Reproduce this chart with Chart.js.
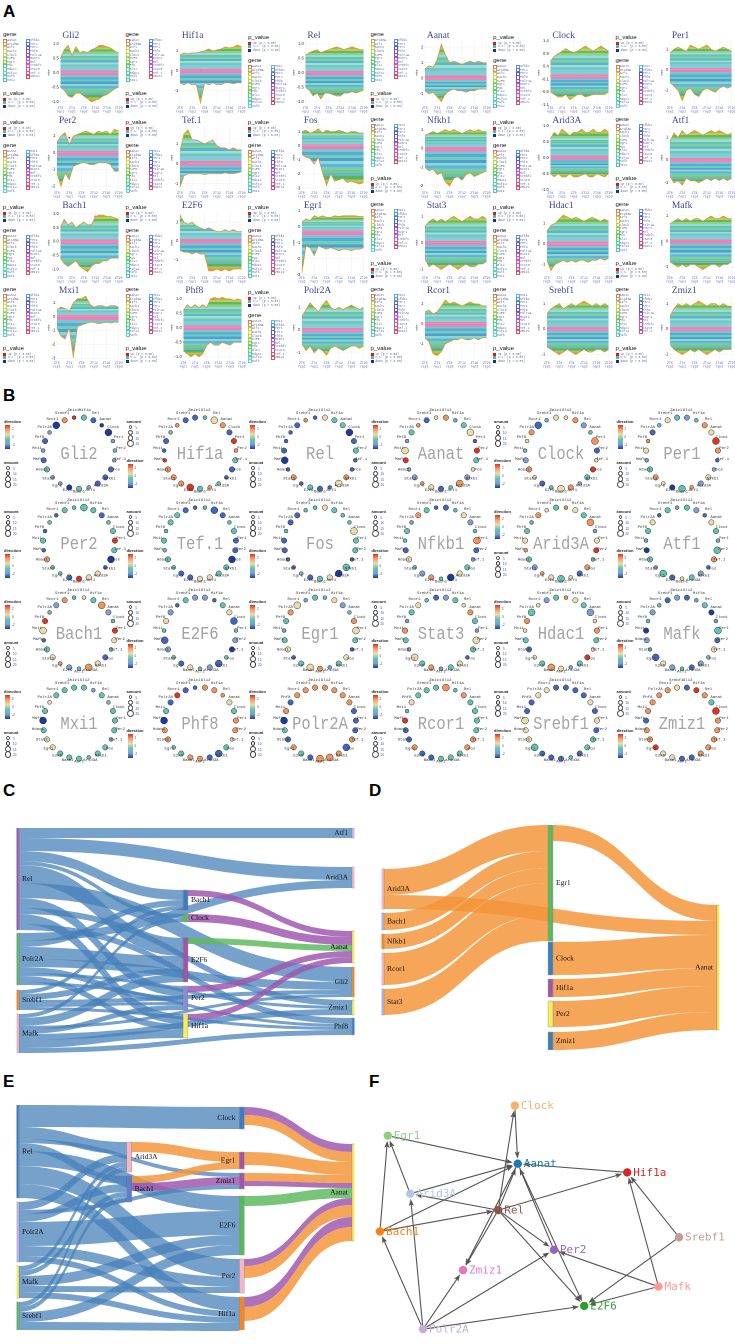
<!DOCTYPE html>
<html><head><meta charset="utf-8">
<script src="https://cdn.jsdelivr.net/npm/chart.js@4.4.1/dist/chart.umd.min.js"></script>
<style>
body{margin:0;background:#fff;}
#root{position:relative;width:735px;height:1344px;overflow:hidden;background:#fff;font-family:'Liberation Sans',Arial,sans-serif;}
.pl{position:absolute;font:bold 17px 'Liberation Sans',Arial,sans-serif;color:#000;line-height:1;}
.t{position:absolute;white-space:nowrap;line-height:1;}
</style></head><body><div id="root"></div>
<script>
// ================= DATA =================
const panelGenes = ['Gli2','Hif1a','Rel','Aanat','Clock','Per1','Per2','Tef.1','Fos','Nfkb1','Arid3A','Atf1','Bach1','E2F6','Egr1','Stat3','Hdac1','Mafk','Mxi1','Phf8','Polr2A','Rcor1','Srebf1','Zmiz1'];
const legendGenes = ['Aanat','Arid3A','Atf1','Bach1','Clock','E2F6','Egr1','Fos','Gli2','Hdac1','Hif1a','Mafk','Mxi1','Nfkb1','Per1','Per2','Phf8','Polr2A','Rcor1','Rel','Srebf1','Stat3','Tef.1','Zmiz1'];
const pValueLabels = ['up (p < 0.05)','n.s. (p \u2265 0.05)','down (p < 0.05)'];
const aXTop = ['ZT0','ZT4','ZT8','ZT12','ZT16','ZT20'];
const aXBottom = ['rep1','rep1','rep2','rep2','rep3','rep3'];

// Panel A: upper / lower envelopes of the stacked areas (16 time points)
const aUpper = [
 [0.5,0.8,0.95,0.6,0.9,0.7,0.75,0.7,0.8,0.85,0.95,0.95,0.9,0.85,0.75,0.7],
 [0.8,0.9,0.85,0.9,0.9,0.95,1.0,1.1,1.0,1.05,1.1,1.2,1.15,1.2,1.3,1.2],
 [0.6,0.7,0.75,0.8,0.7,0.75,0.8,0.85,0.9,0.85,0.8,0.85,0.9,0.85,0.8,0.8],
 [0.6,0.8,0.7,1.2,2.2,1.5,1.0,1.1,1.0,0.9,1.0,1.1,1.0,1.1,1.0,1.0],
 [0.6,0.8,0.9,1.0,1.1,1.0,0.95,1.0,1.1,1.2,1.1,1.0,1.1,1.2,1.1,1.0],
 [0.8,1.0,1.1,1.0,0.9,1.2,1.1,1.0,1.1,1.2,1.0,0.9,1.0,1.1,1.0,0.9],
 [0.6,1.0,1.2,0.5,1.0,1.1,1.2,1.3,1.2,1.1,1.3,1.2,1.3,1.1,1.4,1.3],
 [0.6,1.5,1.7,1.2,1.2,1.1,1.0,1.1,1.2,0.9,0.8,0.8,0.7,0.8,0.7,0.7],
 [1.0,1.1,0.9,1.0,1.2,0.9,1.1,1.0,1.0,1.1,1.0,0.9,1.0,1.0,0.9,0.9],
 [0.7,0.8,0.9,0.8,0.9,1.0,0.9,1.0,0.9,0.8,0.9,1.0,0.9,1.0,0.9,0.9],
 [0.6,0.8,0.7,0.9,0.8,0.7,0.8,0.8,0.9,0.8,0.8,0.9,0.8,0.8,0.9,0.8],
 [0.8,1.2,1.0,1.3,1.1,1.2,1.3,1.2,1.1,1.2,1.3,1.2,1.3,1.2,1.1,1.2],
 [0.5,0.8,0.6,0.7,0.5,0.6,0.7,0.6,0.6,0.9,0.95,0.95,0.9,0.9,0.85,0.8],
 [1.4,1.0,0.9,1.0,0.8,0.7,0.6,0.7,0.6,0.5,0.5,0.6,0.5,0.6,0.5,0.5],
 [0.6,0.8,0.7,1.0,0.9,1.0,0.9,0.9,1.0,0.95,1.0,1.0,1.0,1.0,0.95,0.95],
 [0.6,0.8,0.9,0.8,0.9,0.8,0.9,1.0,0.9,0.8,0.9,1.0,0.9,0.9,1.0,0.9],
 [0.6,0.9,1.0,1.2,1.4,1.3,1.2,1.3,1.2,1.1,1.2,1.3,1.2,1.1,1.2,1.1],
 [0.7,0.8,0.9,0.8,0.9,0.8,0.9,0.9,0.8,0.9,1.0,0.9,0.9,1.0,0.9,0.9],
 [0.5,0.7,0.6,0.4,1.0,1.3,1.3,1.5,0.9,0.7,0.8,0.8,0.7,0.8,0.8,0.7],
 [0.6,0.8,0.7,0.8,0.7,0.8,0.7,1.0,1.05,1.0,1.05,1.0,1.0,0.95,1.0,0.95],
 [0.6,0.9,1.2,1.0,0.8,1.1,1.3,1.0,0.9,1.0,0.9,1.0,1.1,1.0,0.9,1.0],
 [0.6,0.7,0.5,0.6,0.9,1.2,1.0,1.1,1.0,0.9,1.0,1.1,1.0,1.0,0.9,0.9],
 [0.6,0.8,0.9,1.0,0.8,0.9,1.0,0.9,1.0,1.1,1.0,0.9,1.0,0.9,1.0,0.9],
 [0.5,0.8,1.0,0.9,1.0,0.9,1.0,1.1,1.0,0.9,1.0,1.0,0.9,1.0,0.9,0.9]
];
const aLower = [
 [-0.5,-0.6,-0.8,-0.85,-0.7,-0.7,-0.8,-0.9,-1.0,-0.95,-0.9,-0.8,-0.75,-0.65,-0.55,-0.5],
 [-0.6,-0.7,-0.6,-0.7,-0.7,-1.6,-0.6,-0.7,-0.6,-0.7,-0.7,-0.6,-0.6,-0.65,-0.6,-0.6],
 [-0.5,-0.6,-0.8,-0.7,-0.9,-0.7,-0.7,-0.75,-0.8,-0.8,-0.7,-0.7,-0.65,-0.7,-0.65,-0.6],
 [-0.8,-1.0,-0.9,-1.2,-1.5,-1.0,-0.8,-0.7,-0.8,-0.8,-0.9,-0.8,-0.8,-0.7,-0.7,-0.7],
 [-0.6,-0.7,-0.8,-0.8,-0.7,-0.9,-0.8,-0.7,-0.7,-0.8,-0.75,-0.7,-0.7,-0.7,-0.7,-0.6],
 [-0.6,-0.8,-1.0,-1.5,-1.0,-0.9,-1.2,-1.3,-1.0,-0.9,-1.0,-1.1,-0.9,-0.8,-0.9,-0.8],
 [-1.2,-2.0,-1.2,-1.6,-0.8,-0.7,-0.6,-0.6,-0.7,-0.7,-0.6,-0.6,-0.6,-0.7,-1.1,-1.1],
 [-1.2,-0.6,-0.5,-0.5,-0.5,-0.5,-0.55,-0.5,-0.5,-0.5,-0.5,-0.45,-0.5,-0.5,-0.45,-0.4],
 [-0.6,-0.8,-0.9,-1.3,-0.8,-1.9,-2.8,-2.0,-2.5,-2.4,-2.3,-2.6,-2.5,-2.6,-2.7,-2.6],
 [-1.0,-1.2,-1.1,-1.4,-1.3,-1.8,-2.0,-1.6,-1.5,-1.7,-1.4,-1.3,-1.5,-1.4,-1.3,-1.2],
 [-0.5,-0.6,-0.5,-0.6,-0.6,-0.5,-0.6,-0.6,-0.55,-0.5,-0.6,-0.6,-0.5,-0.55,-0.6,-0.5],
 [-0.7,-1.0,-0.9,-1.1,-0.8,-0.9,-0.9,-1.0,-0.9,-0.8,-0.9,-0.8,-0.9,-0.8,-0.9,-0.8],
 [-0.6,-0.8,-0.9,-0.8,-0.7,-0.9,-1.0,-1.1,-0.9,-0.8,-0.8,-0.7,-0.7,-0.6,-0.6,-0.6],
 [-0.5,-0.6,-0.6,-0.7,-0.6,-0.7,-0.7,-1.6,-1.6,-1.5,-1.6,-1.5,-1.6,-1.5,-1.5,-1.5],
 [-2.6,-0.9,-1.0,-1.5,-0.9,-1.0,-1.1,-1.0,-1.1,-1.2,-1.1,-1.1,-1.2,-1.1,-1.1,-1.0],
 [-0.6,-0.9,-0.8,-0.9,-1.0,-0.9,-0.8,-0.9,-1.0,-0.9,-0.8,-0.9,-0.9,-0.8,-0.8,-0.7],
 [-0.8,-1.3,-1.0,-0.9,-0.8,-0.9,-0.8,-0.9,-0.8,-0.8,-0.9,-0.8,-0.8,-0.7,-0.8,-0.7],
 [-0.8,-0.9,-1.0,-0.9,-1.0,-0.9,-0.9,-1.0,-1.1,-1.0,-0.9,-0.9,-1.0,-0.9,-0.9,-0.8],
 [-0.8,-1.4,-1.6,-0.8,-2.9,-0.7,-0.6,-0.5,-0.4,-0.4,-0.5,-0.45,-0.4,-0.45,-0.4,-0.4],
 [-0.8,-0.9,-1.0,-0.9,-1.0,-0.9,-0.6,-0.5,-0.6,-0.6,-0.5,-0.55,-0.6,-0.5,-0.5,-0.5],
 [-0.6,-0.9,-0.7,-1.0,-0.8,-0.9,-1.1,-0.8,-0.7,-0.8,-0.9,-0.8,-0.7,-0.7,-0.8,-0.7],
 [-0.7,-0.9,-1.5,-1.6,-1.4,-1.0,-0.9,-0.8,-0.8,-0.7,-0.8,-0.8,-0.7,-0.8,-0.7,-0.7],
 [-0.7,-0.8,-0.9,-1.0,-0.9,-0.8,-0.9,-1.0,-0.9,-0.8,-0.9,-0.9,-0.8,-0.8,-0.9,-0.8],
 [-0.6,-0.8,-0.9,-1.0,-0.9,-0.8,-0.9,-0.8,-0.9,-1.0,-0.9,-0.8,-0.9,-0.8,-0.8,-0.8]
];
const aYRange = [[-1.1,1.1,0.5],[-1.7,1.5,1],[-1.1,1.1,0.5],[-1.7,2.4,1],[-1.1,1.4,0.5],[-1.7,1.4,1],
 [-2.2,1.6,1],[-1.3,1.9,1],[-3.1,1.4,1],[-2.2,1.2,1],[-1.0,1.0,0.5],[-1.3,1.5,1],
 [-1.2,1.1,0.5],[-1.8,1.6,1],[-2.7,1.3,1],[-1.2,1.2,1],[-1.5,1.6,1],[-1.3,1.2,1],
 [-3.1,1.5,1],[-1.1,1.1,0.5],[-1.3,1.5,1],[-1.8,1.4,1],[-1.2,1.3,1],[-1.2,1.3,1]];
const aRed = [
 [[3,0.3],[3.5,0.35],[6,0.5],[8,0.2],[9,0.2],[10,0.2],[11,0.25],[12,0.2]],
 [[1,0.05],[3,0.1],[5,0],[7,0.7],[9,0.9],[11,0.05],[12,1.0],[14,1.1]],
 [[2,0.6],[5,0.5],[9,0.7],[12,0.6]],
 [[4,1.5],[4.5,1.2],[8,0.5],[12,0.6]],
 [[3,0.9],[6,0.7],[9,0.9],[12,1.0],[14,0.9]],
 [[2,0.8],[5,0.9],[8,0.7],[11,0.8]],
 [[3,0.9],[4,0.9],[6,0.2],[7,0.2],[8,0.2],[10,1.0],[11,1.0],[12,1.0],[13,0.3]],
 [[1,0],[1.5,0],[2,0.05],[5,0.9],[7,0.9]],
 [[1,0.9],[4,0.9],[8,0.8],[12,0.7]],
 [[2,0.5],[6,0.6],[10,0.5]],
 [[3,0.6],[7,0.6],[11,0.7]],
 [[2,0.9],[6,1.0],[10,1.0],[13,1.0]],
 [[1,0.35],[2,0.35],[9,0.9],[10,0.9],[11,0.9],[12,0.25],[13,0.3]],
 [[0,1.1],[1,0.6],[2,0.6],[3,0.5],[5,0.5]],
 [[4,0.8],[9,0.9],[13,0.9]],
 [[3,0.6],[7,0.7],[11,0.6]],
 [[4,1.0],[6,0.9],[10,0.9]],
 [[2,0.5],[8,0.6],[12,0.7]],
 [[7,0.8],[10,0.4]],
 [[1,0.5],[2,0.5],[8,0.3],[9,0.3],[10,0.3],[11,0.5],[14,0.9]],
 [[2,0.9],[6,1.0],[11,0.7]],
 [[5,0.9],[9,0.7],[13,0.6]],
 [[3,0.6],[8,0.7],[12,0.7]],
 [[4,0.7],[9,0.8],[13,0.6]]
];
const aBlue = [
 [[0.5,-0.4],[9,-0.3],[10,-0.3],[11,-0.35],[12,-0.3],[13,-0.3]],
 [[6,-0.4],[8,-0.3],[10,-0.1]],
 [[3,-0.5],[6,-0.6],[10,-0.5],[13,-0.4]],
 [[2,-0.6],[5,-1.0],[9,-0.5]],
 [[4,-0.5],[8,-0.4],[11,-0.5]],
 [[3,-1.2],[7,-0.9],[10,-0.8],[13,-0.6]],
 [[1,-0.3],[2,-0.4],[6,-0.3]],
 [[9,-0.3],[12,-0.3],[14,-0.2]],
 [[7,-1.5],[8,-1.6],[9,-1.7],[10,-1.8],[11,-2.0],[12,-2.1],[13,-2.2],[14,-2.2],[10,-1.2]],
 [[5,-1.3],[6,-1.5],[8,-1.0],[11,-1.0],[13,-1.1]],
 [[4,-0.4],[9,-0.4],[13,-0.4]],
 [[4,-0.7],[8,-0.6]],
 [[2,-0.2],[4,-0.05],[5,-0.05],[6,-0.3],[7,-0.3],[9,-0.4]],
 [[8,-0.3],[9,-0.3],[10,-0.3],[11,-0.3],[8,-1.2],[10,-1.1],[12,-1.0],[14,-0.3]],
 [[1,-0.7],[7,-0.5],[10,-0.9],[12,-0.9]],
 [[5,-0.6],[9,-0.7],[13,-0.5]],
 [[1,-0.9],[7,-0.5],[12,-0.5]],
 [[4,-0.6],[9,-0.8],[13,-0.7]],
 [[2,-0.8],[4,-1.0],[4,-1.2],[4,-1.6],[4,-2.0],[4,-2.4]],
 [[0,-0.5],[1,-0.5],[2,-0.6],[8,-0.3],[12,-0.3],[13,-0.3]],
 [[4,-0.5],[9,-0.5],[13,-0.4]],
 [[2,-1.0],[3,-1.2],[8,-0.5]],
 [[5,-0.6],[10,-0.6]],
 [[2,-0.5],[7,-0.6],[11,-0.6]]
];

// Panel B: direction (-3..3) and amount (1..3) for the 23 partner genes of each circle
const bDir = [
 [0,-2,-3,-3,-1,0,-1,-2,-2,-2,-1,0,-3,-1,-1,0,-2,-1,-2,-1,-3,2,3],
 [0,1,2,-2,3,2,0,-2,-2,0,2,0,3,2,2,2,3,-2,-2,0,2,-2,-2],
 [1,0,0,-3,-2,0,-2,-2,2,1,-2,-2,0,-2,2,-2,-3,-2,-2,-2,-2,2,-2],
 [2,-1,0,1,-2,3,0,1,-1,2,0,-2,1,2,-1,0,3,1,-1,0,2,-2,1],
 [1,2,-1,0,2,-2,1,3,0,-1,2,1,0,-2,1,2,-1,0,1,2,-2,0,1],
 [-1,0,2,1,3,2,-2,0,1,-1,2,0,-3,1,2,0,-1,1,2,-2,0,1,0],
 [0,0,-2,0,0,3,0,-3,-2,1,1,3,-2,0,0,2,-2,0,-2,0,-2,0,0],
 [0,-2,-2,0,0,-2,-2,-3,0,0,1,1,-2,-2,0,0,0,0,0,0,0,-2,-2],
 [1,0,0,0,1,0,0,-2,0,-3,1,0,-2,0,-2,-2,-2,-2,0,-2,-2,0,0],
 [-2,0,1,-1,0,2,-2,-1,0,1,-3,0,2,-1,0,1,-2,0,0,-1,2,0,-2],
 [2,1,0,2,-1,1,3,0,2,-2,1,0,1,2,-1,0,2,1,0,-1,2,1,0],
 [0,-1,-2,1,0,-1,0,2,-2,-1,0,1,-2,0,-1,0,-3,-1,0,1,-2,0,-1],
 [1,0,2,-1,0,3,1,0,-2,1,2,0,-1,2,1,0,-2,1,3,0,-1,2,0],
 [-1,-2,0,1,-2,0,-1,-3,0,-2,-1,0,1,-2,0,-1,-2,0,1,-1,-2,0,-1],
 [0,1,-1,0,2,1,0,-2,1,0,-1,2,1,0,-2,1,0,-1,0,2,1,-1,0],
 [-1,0,1,2,0,-1,1,0,-2,1,0,-1,2,0,1,-1,0,2,-1,0,1,0,-2],
 [2,1,0,-1,1,2,0,1,3,0,-1,1,2,0,1,-2,0,1,2,0,1,-1,0],
 [-2,-1,0,-3,-1,0,-2,1,0,-1,-2,0,-1,1,-2,0,-1,-3,0,-1,0,-2,-1],
 [0,-1,0,0,0,0,0,-1,0,0,0,0,0,0,1,1,0,-3,0,1,0,0,0],
 [2,2,2,1,0,2,2,1,0,-2,-2,2,2,0,0,2,2,-3,0,-2,3,-2,-2],
 [2,2,2,2,-2,-2,-2,2,-2,2,2,2,-2,0,2,-2,0,-3,2,-2,2,2,2],
 [2,0,2,0,0,0,0,2,2,0,0,0,-2,-2,2,-2,-2,3,0,1,0,0,0],
 [-2,-2,-2,1,-2,1,-2,0,0,-2,0,-2,-2,-2,0,1,1,1,-2,-2,1,1,-2],
 [-2,3,2,0,3,2,2,2,2,2,-2,-2,1,1,3,2,2,-2,2,2,2,2,1]
];
const bAmt = [
 [2,2,1,3,1,1,1,2,2,2,1,2,2,1,1,2,2,1,2,1,3,2,1],
 [1,3,2,2,2,1,2,2,1,1,1,2,3,2,2,2,1,1,2,1,1,2,2],
 [2,2,2,3,2,2,1,1,2,3,1,2,2,1,2,1,3,2,1,1,2,1,1],
 [2,1,2,3,1,2,2,1,2,3,1,2,2,1,2,1,2,3,1,2,1,2,1],
 [1,2,2,1,3,2,1,2,2,1,2,3,1,2,1,2,2,1,1,2,3,1,2],
 [2,1,2,2,3,2,1,1,2,2,1,3,2,1,2,2,1,2,1,2,1,2,2],
 [3,2,2,1,2,2,2,3,1,2,2,2,2,1,1,2,1,2,1,1,1,2,1],
 [1,3,2,1,2,2,2,3,2,2,2,2,2,2,1,2,1,2,1,2,2,2,1],
 [2,2,1,1,3,2,2,1,3,3,2,2,2,1,1,1,2,2,1,2,2,1,1],
 [2,1,2,2,1,3,2,1,2,2,3,1,2,2,1,2,2,1,2,1,2,2,1],
 [1,2,2,3,1,2,2,1,2,2,1,3,2,1,2,2,1,2,2,1,2,1,2],
 [2,2,1,2,2,1,3,2,1,2,2,1,2,3,1,2,2,1,2,2,1,2,1],
 [1,2,3,2,1,2,2,1,2,2,3,1,2,1,2,2,1,3,2,1,2,2,1],
 [2,1,2,2,3,1,2,2,1,3,2,1,2,2,1,2,3,1,2,2,1,2,2],
 [1,2,2,1,2,3,2,1,2,2,1,2,3,2,1,2,2,1,2,2,3,1,2],
 [2,2,1,2,2,1,3,2,1,2,2,1,2,2,3,1,2,2,1,2,2,1,2],
 [1,2,2,3,1,2,2,1,2,2,1,2,3,2,1,2,2,1,2,3,1,2,2],
 [2,1,2,2,1,3,2,2,1,2,2,1,2,2,3,1,2,2,1,2,1,2,2],
 [2,1,2,1,2,2,2,1,2,2,1,2,2,2,2,2,2,3,2,1,2,2,2],
 [2,2,1,2,2,2,2,1,2,3,2,2,2,2,1,2,2,3,2,2,2,2,1],
 [2,2,2,2,2,2,2,2,3,2,3,3,2,2,2,2,2,3,2,2,2,2,2],
 [3,1,2,2,2,2,2,2,2,2,2,2,2,2,2,2,2,2,1,2,2,2,2],
 [2,2,2,2,2,2,2,2,2,2,1,2,2,2,3,2,2,3,2,2,2,2,2],
 [2,2,2,2,3,2,2,2,2,2,2,2,2,2,2,2,2,2,2,2,2,2,2]
];
const bDirTicks = ['2','0','-2'];
const bAmtTicks = ['5','10','15','20'];

// Panel C sankey
const cNodes = ['Rel','Polr2A','Srebf1','Mafk','Bach1','Clock','E2F6','Per2','Hif1a','Atf1','Arid3A','Aanat','Gli2','Zmiz1','Phf8'];
const cLinks = [
 ['Rel','Atf1',10,'blue'],['Rel','Arid3A',13,'blue'],['Rel','Bach1',10,'blue'],['Rel','Clock',4,'blue'],['Rel','E2F6',18,'blue'],
 ['Rel','Per2',10,'blue'],['Rel','Hif1a',10,'blue'],['Rel','Gli2',15,'blue'],['Rel','Zmiz1',6,'blue'],['Rel','Phf8',6,'blue'],
 ['Polr2A','Arid3A',8,'blue'],['Polr2A','Bach1',6,'blue'],['Polr2A','E2F6',12,'blue'],['Polr2A','Per2',6,'blue'],['Polr2A','Hif1a',6,'blue'],
 ['Polr2A','Gli2',8,'blue'],['Polr2A','Zmiz1',3,'blue'],['Polr2A','Phf8',3,'blue'],
 ['Srebf1','Bach1',4,'blue'],['Srebf1','E2F6',6,'blue'],['Srebf1','Per2',3,'blue'],['Srebf1','Gli2',4,'blue'],['Srebf1','Phf8',3,'blue'],
 ['Mafk','E2F6',8,'blue'],['Mafk','Clock',4,'blue'],['Mafk','Per2',5,'blue'],['Mafk','Hif1a',8,'blue'],['Mafk','Gli2',3,'blue'],['Mafk','Zmiz1',6,'blue'],['Mafk','Phf8',5,'blue'],
 ['Bach1','Aanat',6,'purple'],['Clock','Aanat',8,'purple'],['E2F6','Aanat',6,'green'],['Per2','Aanat',6,'purple'],['Hif1a','Aanat',6,'purple']
];

// Panel D sankey
const dNodes = ['Arid3A','Bach1','Nfkb1','Rcor1','Stat3','Egr1','Clock','Hif1a','Per2','Zmiz1','Aanat'];
const dLinks = [
 ['Arid3A','Egr1',26,'orange'],['Arid3A','Aanat',14,'orange'],['Bach1','Egr1',17,'orange'],['Nfkb1','Egr1',15,'orange'],
 ['Rcor1','Egr1',32,'orange'],['Stat3','Egr1',26,'orange'],['Egr1','Aanat',16,'orange'],['Clock','Aanat',33,'orange'],
 ['Hif1a','Aanat',18,'orange'],['Per2','Aanat',26,'orange'],['Zmiz1','Aanat',18,'orange']
];

// Panel E sankey
const eNodes = ['Rel','Polr2A','Mafk','Srebf1','Arid3A','Bach1','Clock','Egr1','Zmiz1','E2F6','Per2','Hif1a','Aanat'];
const eLinks = [
 ['Rel','Clock',22,'blue'],['Rel','Arid3A',12,'blue'],['Rel','Bach1',8,'blue'],['Rel','Zmiz1',4,'blue'],['Rel','E2F6',15,'blue'],['Rel','Per2',18,'blue'],['Rel','Hif1a',14,'blue'],
 ['Polr2A','Arid3A',8,'blue'],['Polr2A','Bach1',8,'blue'],['Polr2A','Zmiz1',4,'blue'],['Polr2A','E2F6',24,'blue'],['Polr2A','Per2',10,'blue'],['Polr2A','Hif1a',6,'blue'],
 ['Mafk','Arid3A',5,'blue'],['Mafk','Bach1',5,'blue'],['Mafk','E2F6',10,'blue'],['Mafk','Per2',6,'blue'],['Mafk','Hif1a',6,'blue'],
 ['Srebf1','Arid3A',5,'blue'],['Srebf1','Bach1',5,'blue'],['Srebf1','E2F6',10,'blue'],['Srebf1','Hif1a',8,'blue'],
 ['Arid3A','Egr1',10,'orange'],['Bach1','Egr1',7,'orange'],['Bach1','Zmiz1',8,'purple'],
 ['Clock','Aanat',8,'purple'],['Clock','Aanat',10,'orange'],['Egr1','Aanat',13,'orange'],['Zmiz1','Aanat',8,'orange'],['Zmiz1','Aanat',5,'purple'],
 ['E2F6','Aanat',10,'green'],['Per2','Aanat',7,'purple'],['Per2','Aanat',12,'orange'],['Hif1a','Aanat',10,'purple'],['Hif1a','Aanat',14,'orange']
];

// Panel F network
const fNodes = ['Clock','Egr1','Aanat','Hif1a','Arid3A','Rel','Bach1','Srebf1','Per2','Zmiz1','Mafk','E2F6','Polr2A'];
const fX = [149,19,152,264,42,132,11,317,189,96,296,220,55];
const fY = [17,48,77,86,108,125,147,153,166,187,204,224,248];
const fEdges = [
 ['Clock','Aanat'],['Rel','Clock'],['Egr1','Aanat'],['Arid3A','Egr1'],['Bach1','Egr1'],['Arid3A','Aanat'],['Bach1','Aanat'],
 ['Bach1','Rel'],['Rel','Arid3A'],['Rel','Aanat'],['Rel','Hif1a'],['Hif1a','Aanat'],['Rel','Per2'],['Rel','E2F6'],['Rel','Zmiz1'],
 ['Aanat','Zmiz1'],['Per2','Aanat'],['Aanat','E2F6'],['Mafk','Per2'],['Mafk','Hif1a'],['Srebf1','Hif1a'],['Srebf1','E2F6'],
 ['Mafk','E2F6'],['Polr2A','Arid3A'],['Polr2A','Bach1'],['Polr2A','Zmiz1'],['Polr2A','Per2'],['Polr2A','E2F6']
];

// ================= STYLES / LAYOUT =================
const aLegendGeneFirst = [1,1,0,1,0,0, 0,0,0,1,0,1, 0,0,0,1,0,1, 1,1,0,1,1,1];
const bLegendDirFirst = [1,0,1,1,0,1, 0,0,0,0,1,0, 1,0,1,0,1,0, 1,0,1,1,0,0];
const posStripe = ['#ee80b6','#7fd4c7','#86c6ea','#68cdb4','#a2dcd2','#5ab4d8','#80d09c','#63c4b0','#9ad8e8','#90d27e','#5cbc62','#b9cf5a','#d8a33e'];
const negStripe = ['#ee80b6','#74c9d0','#5aa9d9','#6dd0b8','#4f9fd3','#8fd6cf','#5ab5e0','#79cdb0','#7cc97a','#62b8d0','#56b45a','#b8c455','#d9963a'];
const dirPalette = {'-3':'#1b3b9c','-2':'#3f67c2','-1':'#7b9fd8','0':'#5fc4b4','1':'#e9dcaa','2':'#f2935a','3':'#e3321f'};
const linkColors = {blue:'rgba(70,128,185,0.74)',purple:'rgba(160,88,176,0.85)',green:'rgba(96,186,96,0.85)',orange:'rgba(244,150,60,0.85)'};
const cColors = {Rel:'#a056a6',Polr2A:'#5cb85c',Srebf1:'#f0862a',Mafk:'#f6b5c3',Bach1:'#3d7dbd',Clock:'#5cb85c',E2F6:'#a056a6',Per2:'#8a8ad8',Hif1a:'#f2ee5c',Atf1:'#bcbcec',Arid3A:'#f6b5c3',Aanat:'#f2ee5c',Gli2:'#f0862a',Zmiz1:'#f2ee5c',Phf8:'#3d7dbd'};
const dColors = {Arid3A:'#f6b5c3',Bach1:'#aeaee6',Nfkb1:'#f0862a',Rcor1:'#f6b5c3',Stat3:'#aeaee6',Egr1:'#5cb85c',Clock:'#3d7dbd',Hif1a:'#a056a6',Per2:'#f2ee5c',Zmiz1:'#3d7dbd',Aanat:'#f2ee5c'};
const eColors = {Rel:'#3d7dbd',Polr2A:'#c2b4de',Mafk:'#f2ee5c',Srebf1:'#5cb85c',Arid3A:'#f6b5c3',Bach1:'#5a7fcf',Clock:'#3d7dbd',Egr1:'#a056a6',Zmiz1:'#a056a6',E2F6:'#5cb85c',Per2:'#f6b5c3',Hif1a:'#f0862a',Aanat:'#f2ee5c'};
const fColors = {Clock:'#f5b06a',Egr1:'#8fd07f',Aanat:'#1f77b4',Hif1a:'#d62728',Arid3A:'#aec7e8',Rel:'#8c564b',Bach1:'#ff7f0e',Srebf1:'#c49c94',Per2:'#9467bd',Zmiz1:'#e377c2',Mafk:'#ff9896',E2F6:'#2ca02c',Polr2A:'#c5b0d5'};

// ================= HELPERS =================
const root = document.getElementById('root');
function el(tag, css, text, cls){ const e=document.createElement(tag); if(cls) e.className=cls; e.style.cssText=css; if(text!=null) e.textContent=text; root.appendChild(e); return e; }
function canvasAt(x,y,w,h){ const c=el('canvas',`position:absolute;left:${x}px;top:${y}px;width:${w}px;height:${h}px;`); c.width=w; c.height=h; return c; }
function txt(x,y,s,css){ return el('div',`left:${x}px;top:${y}px;${css||''}`,s,'t'); }
function geneColor(name){ const i=legendGenes.indexOf(name); return `hsl(${(18+i*14.5)%360},62%,58%)`; }
function stripeGradient(chart, yEnd, colors){
  const {ctx, chartArea, scales} = chart; if(!chartArea) return 'rgba(0,0,0,0)';
  const y0 = scales.y.getPixelForValue(0), y1 = scales.y.getPixelForValue(yEnd);
  const g = ctx.createLinearGradient(0,y0,0,y1); const n=colors.length;
  colors.forEach((c,k)=>{ g.addColorStop(k/n,c); g.addColorStop(Math.min(1,(k+1)/n-0.001),c); });
  return g;
}
const baseOpts = {responsive:false, animation:false, devicePixelRatio:2, events:[]};
Chart.defaults.font.family = "'Liberation Sans', Arial, sans-serif";

// panel letters
[['A',3,3],['B',3,387],['C',3,782],['D',369,782],['E',3,1073],['F',369,1073]].forEach(p=>el('div',`left:${p[1]}px;top:${p[2]}px`,p[0],'pl'));

// ================= PANEL A =================
function geneLegend(x,y,self){
  txt(x,y,'gene','font:6px "Liberation Sans";color:#111;');
  const list = legendGenes.filter(g=>g!==self);
  list.forEach((g,k)=>{
    const col = k<12?0:1, row = k<12?k:k-12;
    const xx = x + col*23, yy = y + 7.5 + row*3.6;
    el('div',`position:absolute;left:${xx}px;top:${yy}px;width:2.3px;height:2.3px;border:0.5px solid ${geneColor(g)};`);
    txt(xx+4,yy-0.3,g,'font:3.2px "Liberation Mono";color:#6870a8;');
  });
}
function pLegend(x,y){
  txt(x,y,'p_value','font:6px "Liberation Sans";color:#111;');
  ['#ee1111','#3ec4b4','#1c2c96'].forEach((c,k)=>{
    el('div',`position:absolute;left:${x}px;top:${y+7.5+k*3.6}px;width:3.2px;height:3.2px;background:${c};`);
    txt(x+5,y+7.7+k*3.6,pValueLabels[k],'font:3px "Liberation Mono";color:#6870a8;');
  });
}
const aTitlePlugin = {id:'aTitle', afterDraw(chart,args,opts){ const c=chart.ctx; c.save(); c.font='9.5px "Liberation Serif"'; c.fillStyle='#3a4596'; c.textBaseline='bottom'; c.fillText(opts.text, chart.chartArea.left+2, chart.chartArea.top-1); c.restore(); }};
panelGenes.forEach((g,i)=>{
  const r=Math.floor(i/6), c=i%6;
  const left = 47 + 122.5*c, top = 28 + 85*r;
  const lx = 3 + 122.5*c, ly = 31 + 85*r;
  if (aLegendGeneFirst[i]) { geneLegend(lx, ly, g); pLegend(lx, ly+59); }
  else { pLegend(lx, ly+3); geneLegend(lx, ly+26, g); }
  const cv = canvasAt(left, top, 77, 87);
  const up=aUpper[i], lo=aLower[i], yr=aYRange[i];
  const maxUp=Math.max(...up), minLo=Math.min(...lo);
  new Chart(cv, {type:'line', data:{datasets:[
    {data:up.map((v,k)=>({x:k,y:v})), fill:'origin', backgroundColor:ctx=>stripeGradient(ctx.chart,maxUp,posStripe), borderColor:'#d99a3a', borderWidth:0.8, pointRadius:0, tension:0},
    {data:lo.map((v,k)=>({x:k,y:v})), fill:'origin', backgroundColor:ctx=>stripeGradient(ctx.chart,minLo,negStripe), borderColor:'#d99a3a', borderWidth:0.8, pointRadius:0, tension:0},
    {type:'scatter', data:aRed[i].map(p=>({x:p[0],y:p[1]})), pointStyle:'rect', pointRadius:1.1, backgroundColor:'#f01010', borderWidth:0},
    {type:'scatter', data:aBlue[i].map(p=>({x:p[0],y:p[1]})), pointStyle:'rect', pointRadius:1.1, backgroundColor:'#1c2c96', borderWidth:0}
  ]}, options:Object.assign({}, baseOpts, {
    layout:{padding:{top:13,right:1,left:0,bottom:0}},
    plugins:{legend:{display:false}, tooltip:{enabled:false}, aTitle:{text:g}},
    scales:{
      x:{type:'linear', min:0, max:15, border:{display:false}, grid:{color:'#ebebeb', lineWidth:0.4, drawTicks:false},
         ticks:{stepSize:3, autoSkip:false, maxRotation:0, padding:1.5, includeBounds:false, color:'#5a66b5', font:{size:3.2, family:'"Liberation Mono"', lineHeight:1.15},
           callback:v=>{const k=Math.round(v/3); return [aXTop[k]||'', aXBottom[k]||''];}}},
      y:{min:yr[0], max:yr[1], border:{display:false}, grid:{color:'#ebebeb', lineWidth:0.4, drawTicks:false},
         ticks:{stepSize:yr[2], autoSkip:false, includeBounds:false, padding:1.5, color:'#333', font:{size:4.2},
           callback:v=> yr[2]<1 ? Number(v).toFixed(1) : String(Math.round(v))},
         title:{display:true, text:'value', font:{size:2.6}, padding:0, color:'#333'}}
    }})
  , plugins:[aTitlePlugin]});
});

// ================= PANEL B =================
function dirLegend(x,y){
  txt(x,y,'direction','font:bold 4px "Liberation Sans";color:#222;');
  el('div',`position:absolute;left:${x+1}px;top:${y+6}px;width:5px;height:24px;background:linear-gradient(#e0301e,#f2a070,#e9dcaa,#5fc4b4,#7b9fd8,#1b3b9c);`);
  bDirTicks.forEach((t,k)=>txt(x+8,y+8+k*8,t,'font:3px "Liberation Sans";color:#3344aa;'));
}
function amtLegend(x,y){
  txt(x,y,'amount','font:bold 4px "Liberation Sans";color:#222;');
  bAmtTicks.forEach((t,k)=>{
    const d = 2*(1.2+0.55*(k+1)); const cy = y+8+k*5.5;
    el('div',`position:absolute;left:${x+4-d/2}px;top:${cy-d/2}px;width:${d}px;height:${d}px;border:0.6px solid #333;border-radius:50%;box-sizing:border-box;`);
    txt(x+9,cy-1.5,t,'font:3px "Liberation Sans";color:#3344aa;');
  });
}
const bPlugin = {id:'bLab',
  beforeDatasetsDraw(chart,args,opts){ const c=chart.ctx, a=chart.chartArea; c.save(); c.font='15.5px "Liberation Mono"'; c.fillStyle='#a3a3a3'; c.textAlign='center'; c.textBaseline='middle';
    c.translate((a.left+a.right)/2,(a.top+a.bottom)/2+1); c.scale(1,1.22); c.fillText(opts.center,0,0); c.restore(); },
  afterDatasetsDraw(chart,args,opts){ const c=chart.ctx, xs=chart.scales.x, ys=chart.scales.y; c.save(); c.font='4px "Liberation Mono"'; c.fillStyle='#333'; c.textAlign='center'; c.textBaseline='middle';
    chart.data.datasets[0].data.forEach((p,k)=>{ const px=xs.getPixelForValue(p.x), py=ys.getPixelForValue(p.y); const len=Math.hypot(p.x,p.y)||1; c.fillText(opts.names[k], px+p.x/len*6, py-p.y/len*5-2.5); });
    c.restore(); }
};
panelGenes.forEach((g,i)=>{
  const r=Math.floor(i/6), c=i%6;
  const cx = 79 + 120.5*c, cy = 453 + 90*r;
  const lx = 4 + 122.5*c;
  if (bLegendDirFirst[i]) { dirLegend(lx, cy-34); amtLegend(lx, cy+7); } else { amtLegend(lx, cy-34); dirLegend(lx, cy+5); }
  const others = panelGenes.filter(x=>x!==g);
  const n = others.length;
  const pts = others.map((o,k)=>{ const th=(k+0.5)*2*Math.PI/n; return {x:Math.sin(th), y:Math.cos(th)}; });
  const cv = canvasAt(cx-56, cy-52, 112, 104);
  new Chart(cv, {type:'scatter', data:{datasets:[{data:pts,
      pointRadius:ctx=>1.2+0.75*(bAmt[i][ctx.dataIndex]||1),
      backgroundColor:ctx=>dirPalette[String(bDir[i][ctx.dataIndex]||0)],
      borderColor:'#2a2a2a', borderWidth:0.5}]},
    options:Object.assign({}, baseOpts, {layout:{padding:0},
      plugins:{legend:{display:false}, tooltip:{enabled:false}, bLab:{names:others, center:g}},
      scales:{x:{display:false,min:-1.43,max:1.43}, y:{display:false,min:-1.33,max:1.33}}}),
    plugins:[bPlugin]});
});

// ================= SANKEYS (C, D, E) =================
function sankey(o){
  const cv = canvasAt(o.left, o.top, o.w, o.h);
  const N = o.nodes.length;
  const inS = Array(N).fill(0), outS = Array(N).fill(0);
  const L = o.links.map((l,k)=>({s:o.nodes.indexOf(l[0]), t:o.nodes.indexOf(l[1]), v:l[2], c:linkColors[l[3]], k}));
  L.forEach(l=>{ outS[l.s]+=l.v; inS[l.t]+=l.v; });
  const size = o.nodes.map((n,i)=>Math.max(inS[i],outS[i]));
  for (let i=0;i<N;i++){
    let acc=0;
    L.filter(l=>l.s===i).sort((a,b)=>(o.tops[a.t]-o.tops[b.t])||(a.k-b.k)).forEach(l=>{ l.y0=o.tops[i]+acc; acc+=l.v; });
    acc=0;
    L.filter(l=>l.t===i).sort((a,b)=>(o.tops[a.s]-o.tops[b.s])||(a.k-b.k)).forEach(l=>{ l.y1=o.tops[i]+acc; acc+=l.v; });
  }
  const bw = 5;
  const plug = {id:'sk',
    beforeDatasetsDraw(chart){ const c=chart.ctx, xs=chart.scales.x, ys=chart.scales.y; c.save();
      L.forEach(l=>{ const x0=xs.getPixelForValue(o.cols[l.s])+bw/2, x1=xs.getPixelForValue(o.cols[l.t])-bw/2, xm=(x0+x1)/2;
        const a0=ys.getPixelForValue(l.y0), b0=ys.getPixelForValue(l.y0+l.v), a1=ys.getPixelForValue(l.y1), b1=ys.getPixelForValue(l.y1+l.v);
        c.beginPath(); c.moveTo(x0,a0); c.bezierCurveTo(xm,a0,xm,a1,x1,a1); c.lineTo(x1,b1); c.bezierCurveTo(xm,b1,xm,b0,x0,b0); c.closePath();
        c.fillStyle=l.c; c.fill(); });
      c.restore(); },
    afterDatasetsDraw(chart){ const c=chart.ctx, xs=chart.scales.x, ys=chart.scales.y; c.save(); c.font='7.5px "Liberation Serif"'; c.fillStyle='#111'; c.textBaseline='middle';
      o.nodes.forEach((n,i)=>{ const x=xs.getPixelForValue(o.cols[i]); const y=ys.getPixelForValue(o.tops[i]+size[i]/2); const right = o.cols[i] > (o.ncols-1)/2;
        c.textAlign = right?'right':'left'; c.fillText(n, right? x-bw/2-4 : x+bw/2+3, y); });
      c.restore(); }
  };
  new Chart(cv, {type:'bar', data:{datasets:[{data:o.nodes.map((n,i)=>({x:o.cols[i], y:[o.tops[i], o.tops[i]+size[i]]})),
      backgroundColor:o.nodes.map(n=>o.colors[n]), borderColor:'rgba(90,90,90,0.55)', borderWidth:0.6, borderSkipped:false, barThickness:bw, grouped:false}]},
    options:Object.assign({}, baseOpts, {layout:{padding:{left:o.pad[0],right:o.pad[1],top:o.pad[2],bottom:o.pad[3]}},
      plugins:{legend:{display:false}, tooltip:{enabled:false}},
      scales:{x:{type:'linear',display:false,min:0,max:o.ncols-1,offset:false}, y:{type:'linear',display:false,min:0,max:o.ymax,reverse:true}}}),
    plugins:[plug]});
}
sankey({left:0, top:820, w:370, h:240, pad:[16.5,15.5,8,7], ncols:3, ymax:225, nodes:cNodes, colors:cColors, links:cLinks,
  cols:[0,0,0,0,1,1,1,1,1,2,2,2,2,2,2], tops:[0,105,162,186,62,86,110,158,186,0,39,103,139,172,190]});
sankey({left:365, top:818, w:370, h:240, pad:[16.5,15.5,7,8], ncols:3, ymax:225, nodes:dNodes, colors:dColors, links:dLinks,
  cols:[0,0,0,0,0,1,1,1,1,1,2], tops:[44,88,109,128,164,0,117,154,176,207,80]});
sankey({left:0, top:1095, w:370, h:245, pad:[16.5,15.5,10,10], ncols:4, ymax:225, nodes:eNodes, colors:eColors, links:eLinks,
  cols:[0,0,0,0,1,1,2,2,2,2,2,2,3], tops:[0,97,161,197,37,71,2,47,68,91,154,192,39]});

// ================= PANEL F =================
(function(){
  const cv = canvasAt(365, 1085, 370, 259);
  const R = 4.2;
  const plug = {id:'net',
    beforeDatasetsDraw(chart){ const c=chart.ctx, xs=chart.scales.x, ys=chart.scales.y; c.save(); c.strokeStyle='#555'; c.fillStyle='#555'; c.lineWidth=1.1;
      fEdges.forEach(e=>{ const s=fNodes.indexOf(e[0]), t=fNodes.indexOf(e[1]);
        const x0=xs.getPixelForValue(fX[s]), y0=ys.getPixelForValue(fY[s]), x1=xs.getPixelForValue(fX[t]), y1=ys.getPixelForValue(fY[t]);
        const d=Math.hypot(x1-x0,y1-y0), ux=(x1-x0)/d, uy=(y1-y0)/d;
        const tx=x1-ux*(R+1), ty=y1-uy*(R+1), bx=tx-ux*7, by=ty-uy*7;
        c.beginPath(); c.moveTo(x0+ux*R,y0+uy*R); c.lineTo(bx+ux*2,by+uy*2); c.stroke();
        c.beginPath(); c.moveTo(tx,ty); c.lineTo(bx-uy*2.6,by+ux*2.6); c.lineTo(bx+ux*1.5,by+uy*1.5); c.lineTo(bx+uy*2.6,by-ux*2.6); c.closePath(); c.fill(); });
      c.restore(); },
    afterDatasetsDraw(chart){ const c=chart.ctx, xs=chart.scales.x, ys=chart.scales.y; c.save(); c.font='11px "DejaVu Sans Mono"'; c.textBaseline='middle'; c.textAlign='left';
      fNodes.forEach((n,i)=>{ c.fillStyle=fColors[n]; c.fillText(n, xs.getPixelForValue(fX[i])+6, ys.getPixelForValue(fY[i])+0.5); });
      c.restore(); }
  };
  new Chart(cv, {type:'scatter', data:{datasets:[{data:fNodes.map((n,i)=>({x:fX[i],y:fY[i]})), pointRadius:R, backgroundColor:fNodes.map(n=>fColors[n]), borderWidth:0}]},
    options:Object.assign({}, baseOpts, {layout:{padding:0}, plugins:{legend:{display:false}, tooltip:{enabled:false}},
      scales:{x:{display:false,min:0,max:370}, y:{display:false,min:0,max:259,reverse:true}}}),
    plugins:[plug]});
})();
</script></body></html>
